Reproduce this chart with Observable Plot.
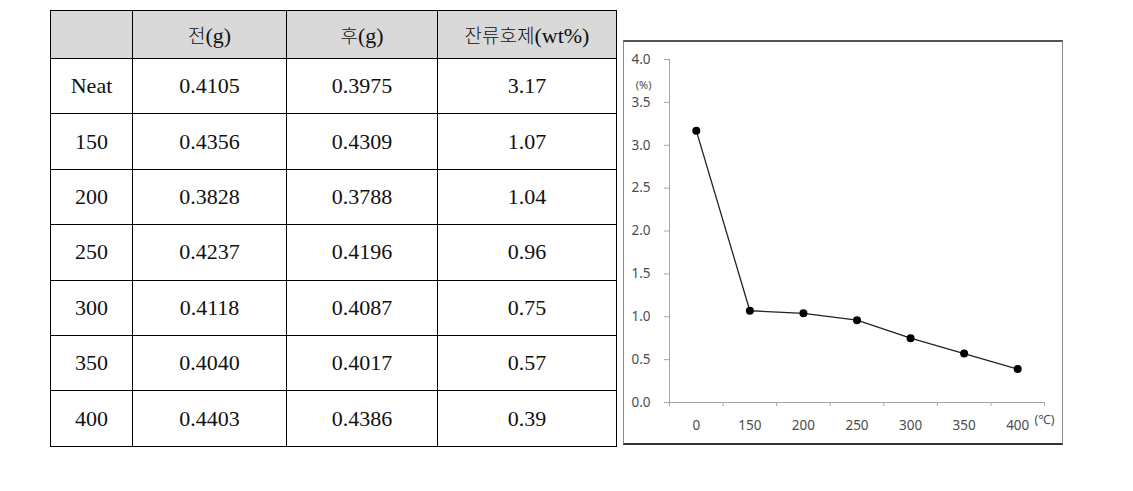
<!DOCTYPE html>
<html>
<head>
<meta charset="utf-8">
<script src="https://cdn.jsdelivr.net/npm/d3@7"></script>
<script src="https://cdn.jsdelivr.net/npm/@observablehq/plot@0.6"></script>
<style>
  html, body { margin: 0; padding: 0; background: #fff; }
  body { width: 1133px; height: 491px; position: relative; overflow: hidden; }
  #tbl { position: absolute; left: 50px; top: 10px; border-collapse: collapse; table-layout: fixed;
         font-family: "Liberation Serif", "Noto Sans CJK KR", serif; font-size: 22px; color: #111; }
  #tbl td, #tbl th { border: 1px solid #000; text-align: center; vertical-align: middle; padding: 0; font-weight: normal; }
  #tbl th { background: #d9d9d9; height: 47px; }
  #tbl td { height: 54.4px; }
  .ko { font-family: "Noto Sans CJK KR", sans-serif; font-weight: 300; font-size: 19px; }
  #chartwrap { position: absolute; left: 623px; top: 40px; width: 440px; height: 405px; background: #fff; }
  #frame { position: absolute; left: 623px; top: 40px; width: 440px; height: 405px; box-sizing: border-box;
           border: 1px solid #8a8a8a; border-top: 2px solid #555; border-bottom: 2px solid #333; pointer-events: none; }
</style>
</head>
<body>
<table id="tbl"></table>
<div id="chartwrap"></div>
<div id="frame"></div>
<script>
// ---- data ----
const rowLabels = ["Neat", "150", "200", "250", "300", "350", "400"];
const beforeG = ["0.4105", "0.4356", "0.3828", "0.4237", "0.4118", "0.4040", "0.4403"];
const afterG = ["0.3975", "0.4309", "0.3788", "0.4196", "0.4087", "0.4017", "0.4386"];
const residue = [3.17, 1.07, 1.04, 0.96, 0.75, 0.57, 0.39];
const headers = ["", "전(g)", "후(g)", "잔류호제(wt%)"];
const xLabels = ["0", "150", "200", "250", "300", "350", "400"];
const yTicks = [0, 0.5, 1.0, 1.5, 2.0, 2.5, 3.0, 3.5, 4.0];

// ---- table ----
const colW = [82, 154, 151, 179];
const tbl = document.getElementById("tbl");
const cg = document.createElement("colgroup");
colW.forEach(w => { const c = document.createElement("col"); c.style.width = w + "px"; cg.appendChild(c); });
tbl.appendChild(cg);
const hr = document.createElement("tr");
headers.forEach(h => {
  const th = document.createElement("th");
  th.innerHTML = h.replace(/([가-힣]+)/g, '<span class="ko">$1</span>');
  hr.appendChild(th);
});
tbl.appendChild(hr);
rowLabels.forEach((r, i) => {
  const tr = document.createElement("tr");
  [r, beforeG[i], afterG[i], residue[i].toFixed(2)].forEach(v => {
    const td = document.createElement("td"); td.textContent = v; tr.appendChild(td);
  });
  tbl.appendChild(tr);
});

// ---- chart ----
const data = residue.map((v, i) => ({i, v}));
const gray = "#a6a6a6";
const txt = "#4d4d4d";
const chart = Plot.plot({
  width: 440,
  height: 405,
  marginLeft: 46,
  marginRight: 19,
  marginTop: 19,
  marginBottom: 43,
  style: {fontFamily: "'Noto Sans', 'Noto Sans CJK KR', sans-serif", fontSize: "13.5px", color: txt, background: "transparent"},
  x: {type: "linear", domain: [-0.5, xLabels.length - 0.5]},
  y: {domain: [0, 4]},
  marks: [
    Plot.ruleY([0], {stroke: gray, strokeWidth: 1}),
    Plot.ruleX([-0.5], {stroke: gray, strokeWidth: 1}),
    Plot.axisY({ticks: yTicks, tickFormat: d3.format(".1f"), tickSize: 5, tickPadding: 14, stroke: gray, label: null, fill: txt}),
    Plot.axisX({ticks: d3.range(-0.5, xLabels.length, 1), tickSize: 4, tickFormat: () => "", stroke: gray, label: null}),
    Plot.axisX({ticks: d3.range(xLabels.length), tickSize: 0, tickPadding: 18, tickFormat: i => xLabels[i], label: null, fill: txt}),
    Plot.text(["(%)"], {frameAnchor: "top-left", dx: -18, dy: 22, textAnchor: "end", fontSize: 11, fill: txt}),
    Plot.text(["(℃)"], {frameAnchor: "bottom-right", dx: -10, dy: 21, textAnchor: "start", fontSize: 12.5, fill: txt}),
    Plot.line(data, {x: "i", y: "v", stroke: "#222", strokeWidth: 1.3}),
    Plot.dot(data, {x: "i", y: "v", r: 4, fill: "#000", stroke: "none"})
  ]
});
document.getElementById("chartwrap").appendChild(chart);
</script>
</body>
</html>
